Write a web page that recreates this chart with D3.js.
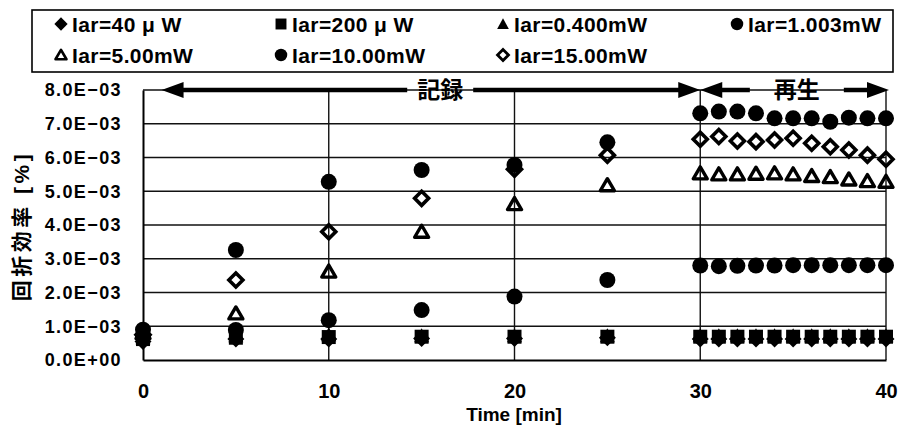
<!DOCTYPE html>
<html><head><meta charset="utf-8">
<script src="https://cdn.jsdelivr.net/npm/d3@7"></script>
<style>
body{margin:0;background:#fff;}
svg{display:block;font-family:"Liberation Sans","Noto Sans CJK JP",sans-serif;font-weight:bold;}
</style></head>
<body><svg id="chart" width="899" height="427"></svg>
<script>
// ---- data (values in units of 1E-03 %) ----
const times = [0,5,10,15,20,25,30,31,32,33,34,35,36,37,38,39,40];
const s40uW   = [0.55,0.62,0.62,0.64,0.64,0.66,0.62,0.62,0.62,0.62,0.62,0.62,0.62,0.62,0.62,0.62,0.62];
const s200uW  = [0.62,0.66,0.68,0.69,0.69,0.69,0.69,0.69,0.69,0.69,0.69,0.69,0.69,0.69,0.69,0.69,0.69];
const s0400mW = [0.66,0.72,0.75,0.72,0.72,0.72,0.72,0.72,0.72,0.72,0.72,0.72,0.72,0.72,0.72,0.72,0.72];
const s1003mW = [0.70,0.89,1.18,1.48,1.88,2.37,2.80,2.78,2.79,2.80,2.80,2.81,2.81,2.81,2.81,2.81,2.81];
const s5mW    = [0.80,1.38,2.62,3.80,4.62,5.18,5.53,5.50,5.50,5.52,5.53,5.50,5.45,5.42,5.35,5.30,5.28];
const s10mW   = [0.90,3.26,5.28,5.63,5.78,6.45,7.31,7.36,7.36,7.31,7.16,7.16,7.16,7.06,7.18,7.16,7.16];
const s15mW   = [0.75,2.37,3.80,4.79,5.65,6.07,6.54,6.62,6.49,6.47,6.52,6.57,6.42,6.32,6.22,6.07,5.95];
const seriesNames = ["Iar=40 μ W","Iar=200 μ W","Iar=0.400mW","Iar=1.003mW","Iar=5.00mW","Iar=10.00mW","Iar=15.00mW"];
const seriesValues = [s40uW,s200uW,s0400mW,s1003mW,s5mW,s10mW,s15mW];
const seriesMarkers = ["diamondFill","square","triangleFill","circle","triangleOpen","circle","diamondOpen"];
const yTicks = [0,1,2,3,4,5,6,7,8];
const yTickLabels = ["0.0E+00","1.0E−03","2.0E−03","3.0E−03","4.0E−03","5.0E−03","6.0E−03","7.0E−03","8.0E−03"];
const xTicks = [0,10,20,30,40];
const xTitle = "Time [min]";
const yTitle = "回折効率 [%]";
const phaseLabels = ["記録","再生"];
const phaseRanges = [[1,30],[30,40]];
const phaseLabelPos = [16,35.2];

// ---- layout ----
const svg = d3.select("#chart");
const x = d3.scaleLinear().domain([0,40]).range([143,886]);
const y = d3.scaleLinear().domain([0,8]).range([360,90]);

// gridlines
const g = svg.append("g");
g.selectAll("line.hg").data(yTicks.slice(1)).join("line")
  .attr("x1",x(0)).attr("x2",x(40)).attr("y1",d=>y(d)).attr("y2",d=>y(d))
  .attr("stroke","#111").attr("stroke-width",1.4);
g.selectAll("line.vg").data(xTicks.slice(1)).join("line")
  .attr("x1",d=>x(d)).attr("x2",d=>x(d)).attr("y1",y(0)).attr("y2",y(8))
  .attr("stroke","#111").attr("stroke-width",1.4);

// axes
const yAxis = d3.axisLeft(y).tickValues(yTicks).tickFormat((d,i)=>yTickLabels[i]).tickSize(0).tickPadding(21);
const ya = svg.append("g").attr("transform",`translate(${x(0)},0)`).call(yAxis);
ya.select(".domain").attr("stroke","#000").attr("stroke-width",2);
ya.selectAll("text").attr("font-size",18).attr("font-weight","bold").attr("letter-spacing",1.4)
  .attr("font-family","Liberation Sans, sans-serif").attr("fill","#000");

const xAxis = d3.axisBottom(x).tickValues(xTicks).tickFormat(d3.format("d")).tickSize(0).tickPadding(24);
const xa = svg.append("g").attr("transform",`translate(0,${y(0)})`).call(xAxis);
xa.select(".domain").attr("stroke","#000").attr("stroke-width",2.2);
xa.selectAll("text").attr("font-size",20).attr("font-weight","bold")
  .attr("font-family","Liberation Sans, sans-serif").attr("fill","#000");

svg.append("text").attr("x",514).attr("y",421).attr("text-anchor","middle")
  .attr("font-size",19).text(xTitle);
svg.append("text").attr("transform","translate(29,226) rotate(-90)").attr("text-anchor","middle")
  .attr("font-size",21).attr("letter-spacing",3.5).text(yTitle);

// phase arrows on top line
const topY = y(8);
function arrowHead(tipX, dir){ // dir: -1 points left, +1 points right
  const L=22, H=8;
  return `M${tipX},${topY} L${tipX-dir*L},${topY-H} L${tipX-dir*L},${topY+H} Z`;
}
phaseLabels.forEach((lab,i)=>{
  const [a,b] = phaseRanges[i];
  const cx = x(phaseLabelPos[i]);
  const t = svg.append("text").attr("x",cx).attr("y",topY+8).attr("text-anchor","middle")
    .attr("font-size",23).attr("font-family","Noto Sans CJK JP").attr("font-weight","bold").text(lab);
  const w = t.node().getComputedTextLength();
  const pad = i===0 ? 10 : 24;
  svg.append("line").attr("x1",x(a)+10).attr("x2",cx-w/2-pad).attr("y1",topY).attr("y2",topY)
    .attr("stroke","#000").attr("stroke-width",4.5);
  svg.append("line").attr("x1",cx+w/2+pad).attr("x2",x(b)-10).attr("y1",topY).attr("y2",topY)
    .attr("stroke","#000").attr("stroke-width",4.5);
  svg.append("path").attr("d",arrowHead(x(a),-1)).attr("fill","#000");
  svg.append("path").attr("d",arrowHead(x(b)+(i===1?3:0),1)).attr("fill","#000");
});

// markers
function drawMarker(sel, type, s){
  if(type==="circle") return sel.append("circle").attr("r",8*s).attr("fill","#000");
  if(type==="square") return sel.append("rect").attr("x",-7*s).attr("y",-7*s).attr("width",14*s).attr("height",14*s).attr("fill","#000");
  if(type==="diamondFill") return sel.append("path").attr("d",`M0,${-8.5*s}L${8.5*s},0L0,${8.5*s}L${-8.5*s},0Z`).attr("fill","#000");
  if(type==="diamondOpen") return sel.append("path").attr("d",`M0,${-7*s}L${7*s},0L0,${7*s}L${-7*s},0Z`).attr("fill","none").attr("stroke","#000").attr("stroke-width",3.6*s);
  if(type==="triangleFill") return sel.append("path").attr("d",`M0,${-7.5*s}L${7.5*s},${6.5*s}L${-7.5*s},${6.5*s}Z`).attr("fill","#000");
  if(type==="triangleOpen") return sel.append("path").attr("d",`M0,${-6.5*s}L${7*s},${5.5*s}L${-7*s},${5.5*s}Z`).attr("fill","none").attr("stroke","#000").attr("stroke-width",3.4*s).attr("stroke-linejoin","round");
}
seriesValues.forEach((vals,si)=>{
  const sg = svg.append("g");
  vals.forEach((v,k)=>{
    const m = sg.append("g").attr("transform",`translate(${x(times[k])},${y(v)})`);
    drawMarker(m, seriesMarkers[si], 1);
  });
});

// legend
svg.append("rect").attr("x",32).attr("y",10).attr("width",861).attr("height",62)
  .attr("fill","#fff").attr("stroke","#000").attr("stroke-width",1.6);
const legCols = [61,281,503,737];
const legRows = [24,55];
seriesNames.forEach((nm,i)=>{
  const cx = legCols[i%4], cy = legRows[Math.floor(i/4)];
  const m = svg.append("g").attr("transform",`translate(${cx},${cy})`);
  drawMarker(m, seriesMarkers[i], 0.78);
  svg.append("text").attr("x",cx+11).attr("y",cy+7.5).attr("font-size",21).attr("letter-spacing",0.4)
    .attr("font-family","Liberation Sans, Noto Sans CJK JP, sans-serif").text(nm);
});
</script></body></html>
